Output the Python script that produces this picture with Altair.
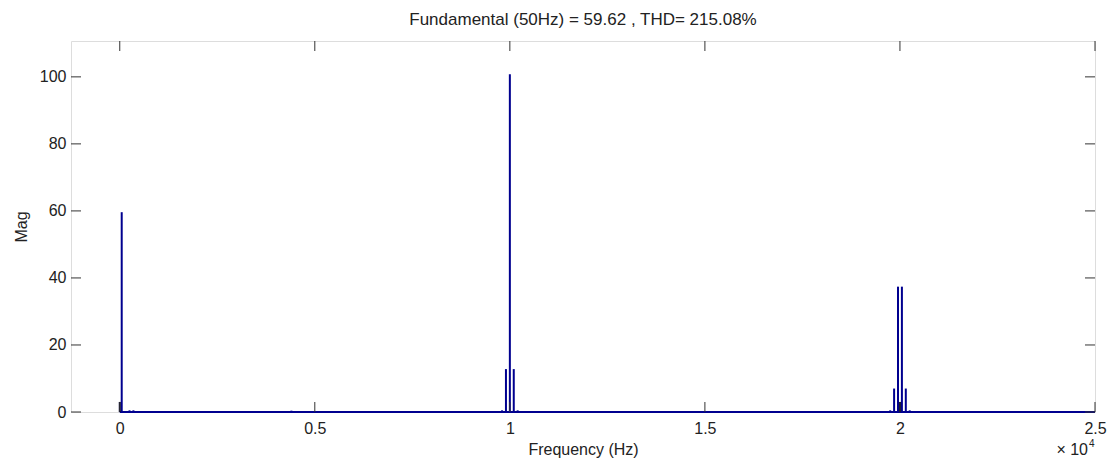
import altair as alt
import pandas as pd

# Harmonic spectrum (frequency in Hz, magnitude in % of fundamental)
freqs = [50, 250, 350, 4400, 9800, 9900, 10000, 10100, 10200,
         19750, 19850, 19950, 20050, 20150, 20250]
mags = [59.62, 0.5, 0.5, 0.4, 0.5, 12.8, 100.8, 12.8, 0.5,
        0.5, 7.0, 37.4, 37.4, 7.0, 0.5]
# components drawn darker (DC and centre of the 2e4 cluster)
dark_freqs = [0, 20000]
dark_mags = [3.0, 3.0]

x_ticks = [0, 5000, 10000, 15000, 20000, 25000]
y_ticks = [0, 20, 40, 60, 80, 100]
freq_range = [0, 25000]

title_text = "Fundamental (50Hz) = 59.62 , THD= 215.08%"

W, H = 1024, 371
FONT = "Liberation Sans"
BLUE = "#00008f"

xs = alt.Scale(domain=[-1250, 25000], nice=False, zero=False)
ys = alt.Scale(domain=[0, 110.7], nice=False, zero=False)

spec_df = pd.DataFrame({"f": freqs, "m": mags})
dark_df = pd.DataFrame({"f": dark_freqs, "m": dark_mags})
base_df = pd.DataFrame({"f0": [freq_range[0]], "f1": [freq_range[1]], "z": [0]})
xt_df = pd.DataFrame({"v": x_ticks})
yt_df = pd.DataFrame({"v": y_ticks})

x_axis = alt.Axis(values=x_ticks, labelExpr="datum.value / 10000", grid=False,
                  ticks=False, domain=False, labelFontSize=16, labelFont=FONT,
                  labelColor="#222222", labelPadding=8, title="Frequency (Hz)",
                  titleFont=FONT, titleFontSize=16, titleFontWeight="normal",
                  titleColor="#222222", titlePadding=5, labelFlush=False)
y_axis = alt.Axis(values=y_ticks, grid=False, ticks=False, domain=False,
                  labelFontSize=16, labelFont=FONT, labelColor="#222222",
                  labelPadding=5, title="Mag", titleFont=FONT, titleFontSize=16,
                  titleFontWeight="normal", titleColor="#222222", titlePadding=10)

bars = alt.Chart(spec_df).mark_rule(color=BLUE, strokeWidth=2).encode(
    x=alt.X("f:Q", scale=xs, axis=x_axis),
    y=alt.Y("m:Q", scale=ys, axis=y_axis),
    y2=alt.Y2(datum=0),
)
dark = alt.Chart(dark_df).mark_rule(color="#000033", strokeWidth=2).encode(
    x=alt.X("f:Q", scale=xs), y=alt.Y("m:Q", scale=ys), y2=alt.Y2(datum=0))

baseline = alt.Chart(base_df).mark_rule(color=BLUE, strokeWidth=2).encode(
    x=alt.X("f0:Q", scale=xs), x2="f1:Q", y=alt.Y("z:Q", scale=ys))

tick_col = "#333333"
xt_bot = alt.Chart(xt_df).mark_rule(color=tick_col, strokeWidth=1).encode(
    x=alt.X("v:Q", scale=xs), y=alt.value(H), y2=alt.value(H - 10))
xt_top = alt.Chart(xt_df).mark_rule(color=tick_col, strokeWidth=1).encode(
    x=alt.X("v:Q", scale=xs), y=alt.value(0), y2=alt.value(10))
yt_left = alt.Chart(yt_df).mark_rule(color=tick_col, strokeWidth=1).encode(
    y=alt.Y("v:Q", scale=ys), x=alt.value(0), x2=alt.value(10))
yt_right = alt.Chart(yt_df).mark_rule(color=tick_col, strokeWidth=1).encode(
    y=alt.Y("v:Q", scale=ys), x=alt.value(W), x2=alt.value(W - 10))

mult = alt.Chart(pd.DataFrame({"t": ["× 10"]})).mark_text(
    font=FONT, fontSize=16, align="right", baseline="bottom", color="#222222"
).encode(text="t:N", x=alt.value(W - 7), y=alt.value(H + 46))
expo = alt.Chart(pd.DataFrame({"t": ["4"]})).mark_text(
    font=FONT, fontSize=10, align="left", baseline="bottom", color="#222222"
).encode(text="t:N", x=alt.value(W - 6), y=alt.value(H + 37))

chart = alt.layer(
    baseline, bars, dark, xt_bot, xt_top, yt_left, yt_right, mult, expo
).properties(
    width=W, height=H,
    title=alt.TitleParams(title_text, font=FONT, fontSize=17, fontWeight="normal",
                          color="#222222", anchor="middle", offset=12),
    autosize=alt.AutoSizeParams(type="none"),
    padding={"left": 71, "top": 41, "right": 15, "bottom": 50},
).configure_view(stroke="#333333", strokeWidth=1).configure(background="white")

chart.save("out.html", embed_options={"renderer": "svg", "actions": False})
